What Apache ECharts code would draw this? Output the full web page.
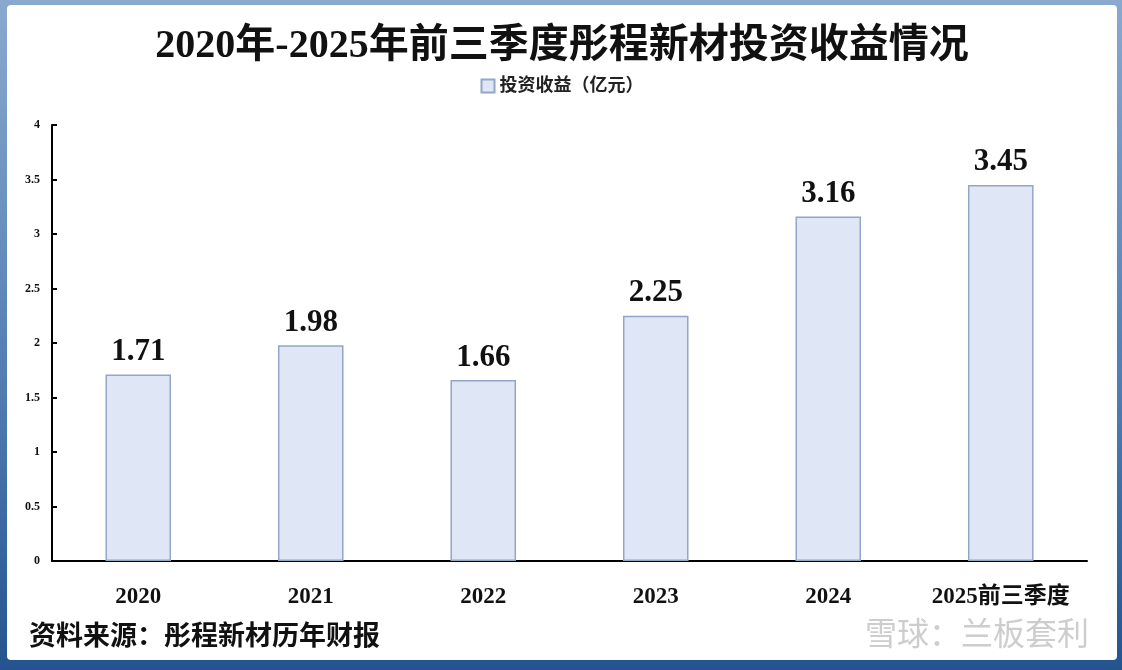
<!DOCTYPE html>
<html><head><meta charset="utf-8">
<script src="https://cdn.jsdelivr.net/npm/echarts@6/dist/echarts.min.js"></script>
<style>
html,body{margin:0;padding:0;width:1122px;height:670px;overflow:hidden;}
#frame{position:absolute;left:0;top:0;width:1122px;height:670px;background:linear-gradient(180deg,#8aa9cf 0%,#4f7bb0 60%,#24548f 100%);}
#chart{position:absolute;left:7px;top:5px;width:1110px;height:655px;background:#fff;border-radius:4px;}
</style></head>
<body><div id="frame"></div><div id="chart"></div>
<script>
const categories = ['2020','2021','2022','2023','2024','2025前三季度'];
const values = [1.71, 1.98, 1.66, 2.25, 3.16, 3.45];
const seriesName = '投资收益（亿元）';
const titleText = '2020年-2025年前三季度彤程新材投资收益情况';
const sourceText = '资料来源：彤程新材历年财报';
const watermark = '雪球：兰板套利';

const serif = '"Liberation Serif","Noto Sans CJK SC",serif';
const chart = echarts.init(document.getElementById('chart'));
chart.setOption({
  animation:false,
  title:{text:titleText,left:'center',top:17,textStyle:{fontFamily:serif,fontSize:40,fontWeight:'bold',color:'#111'}},
  legend:{top:67,left:'center',itemWidth:13,itemHeight:13,itemGap:6,
    textStyle:{fontFamily:serif,fontSize:18,fontWeight:'bold',color:'#222'},
    data:[{name:seriesName,icon:'rect'}]},
  grid:{left:45,right:30,top:120,bottom:99},
  xAxis:{type:'category',data:categories,
    axisLine:{lineStyle:{color:'#000',width:2}},
    axisTick:{inside:true,length:6,lineStyle:{color:'#000',width:2}},
    axisLabel:{interval:0,margin:25,fontFamily:serif,fontSize:23,fontWeight:'bold',color:'#111'}},
  yAxis:{type:'value',min:0,max:4,interval:0.5,splitLine:{show:false},
    axisLine:{show:true,lineStyle:{color:'#000',width:2}},
    axisTick:{show:true,inside:true,length:5,lineStyle:{color:'#000',width:2}},
    axisLabel:{margin:12,fontFamily:serif,fontSize:12,fontWeight:'bold',color:'#111'}},
  series:[{name:seriesName,type:'bar',data:values,barWidth:'38%',
    itemStyle:{color:'#dfe7f6',borderColor:'#93a6c6',borderWidth:1.5},
    label:{show:true,position:'top',distance:7,fontFamily:serif,fontSize:31,fontWeight:'bold',color:'#111'}}],
  graphic:[
    {type:'text',left:22,top:620,style:{text:sourceText,fontFamily:serif,fontSize:27,fontWeight:'bold',fill:'#111'}},
    {type:'text',right:28,top:612,style:{text:watermark,fontFamily:'"Noto Sans CJK SC",sans-serif',fontSize:32,fill:'rgba(200,200,200,0.9)'}}
  ]
});
</script></body></html>
